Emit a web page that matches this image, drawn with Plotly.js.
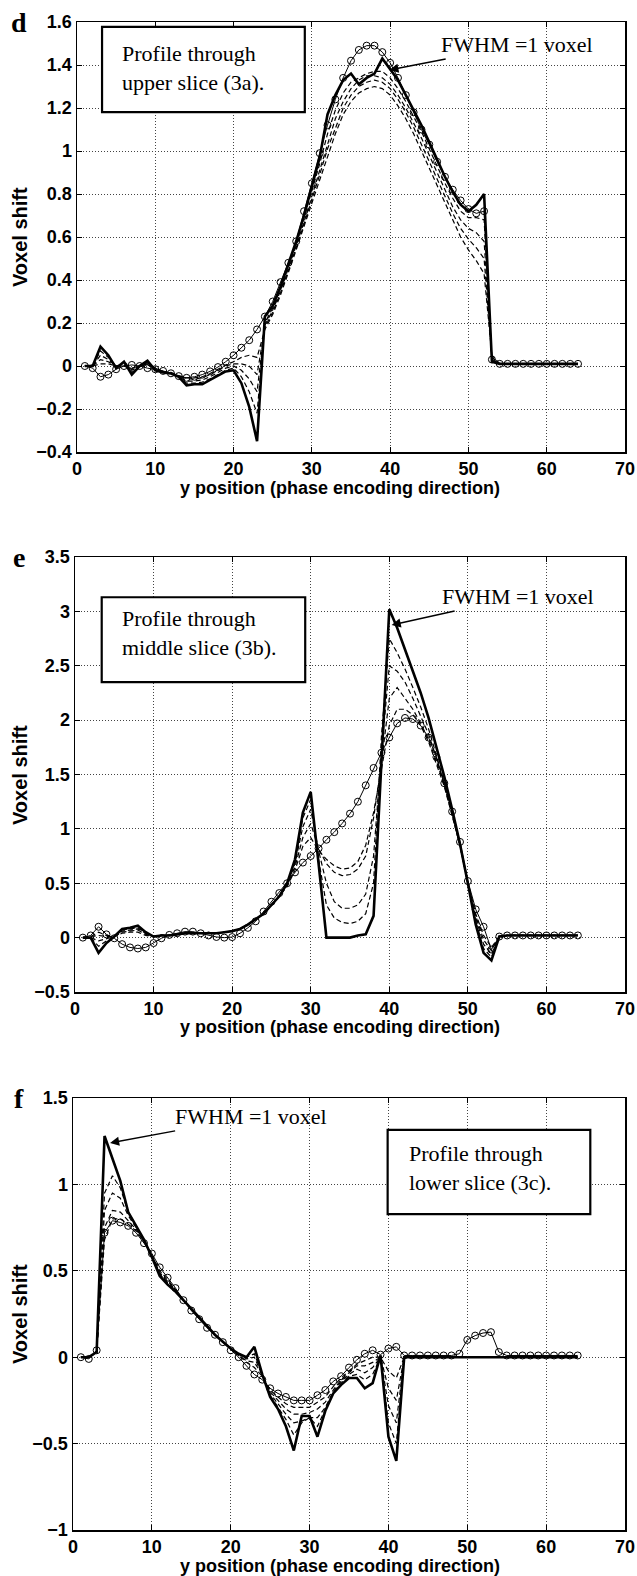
<!DOCTYPE html>
<html>
<head>
<meta charset="utf-8">
<script src="https://cdn.plot.ly/plotly-3.0.1.min.js"></script>
<style>html,body{margin:0;padding:0;background:#fff;}#chart{width:637px;height:1576px;}</style>
</head>
<body>
<div id="chart"></div>
<script>
// ---------- data ----------
const xPos = [1,2,3,4,5,6,7,8,9,10,11,12,13,14,15,16,17,18,19,20,21,22,23,24,25,26,27,28,29,30,31,32,33,34,35,36,37,38,39,40,41,42,43,44,45,46,47,48,49,50,51,52,53,54,55,56,57,58,59,60,61,62,63,64];

// Panel d: upper slice (3a)
const dCircle = [0,-0.01,-0.05,-0.04,-0.015,0,0.005,0,-0.01,-0.015,
  -0.023,-0.034,-0.047,-0.055,-0.05,-0.04,-0.025,-0.005,0.02,0.05,
  0.085,0.12,0.17,0.23,0.30,0.39,0.48,0.58,0.72,0.85,
  0.99,1.12,1.24,1.34,1.42,1.47,1.49,1.49,1.46,1.41,
  1.34,1.26,1.18,1.10,1.03,0.95,0.88,0.82,0.77,0.73,
  0.71,0.72,0.03,0.01,0.01,0.01,0.01,0.01,0.01,0.01,
  0.01,0.01,0.01,0.01];
const dSolid = [0,0,0.09,0.05,-0.01,0.02,-0.04,0,0.025,-0.02,
  -0.03,-0.035,-0.05,-0.09,-0.085,-0.085,-0.065,-0.045,-0.025,-0.02,
  -0.08,-0.19,-0.35,0.23,0.28,0.37,0.47,0.58,0.70,0.83,
  0.97,1.17,1.26,1.33,1.36,1.31,1.34,1.36,1.43,1.38,
  1.33,1.26,1.19,1.12,1.04,0.96,0.88,0.81,0.75,0.72,
  0.75,0.80,0.02,0.01,0.01,0.01,0.01,0.01,0.01,0.01,
  0.01,0.01,0.01,0.01];
const dDash1 = [0,0,0.07,0.04,0,0.01,-0.03,0,0.02,-0.02,
  -0.03,-0.035,-0.05,-0.08,-0.08,-0.075,-0.06,-0.04,-0.02,-0.01,
  -0.05,-0.12,-0.22,0.2,0.27,0.36,0.46,0.57,0.69,0.81,
  0.94,1.08,1.19,1.27,1.32,1.34,1.36,1.37,1.37,1.34,
  1.29,1.23,1.16,1.09,1.01,0.93,0.85,0.78,0.72,0.69,
  0.69,0.68,0.03,0.01,0.01,0.01,0.01,0.01,0.01,0.01,
  0.01,0.01,0.01,0.01];
const dDash2 = [0,0,0.05,0.03,0,0.005,-0.02,0,0.015,-0.015,
  -0.03,-0.035,-0.05,-0.07,-0.07,-0.065,-0.05,-0.03,-0.01,0,
  -0.02,-0.06,-0.12,0.19,0.26,0.35,0.45,0.56,0.67,0.79,
  0.91,1.04,1.15,1.23,1.29,1.33,1.35,1.35,1.34,1.31,
  1.26,1.2,1.13,1.06,0.98,0.9,0.82,0.74,0.68,0.64,
  0.62,0.58,0.04,0.01,0.01,0.01,0.01,0.01,0.01,0.01,
  0.01,0.01,0.01,0.01];
const dDash3 = [0,0,0.03,0.02,0,0,-0.015,0,0.01,-0.01,
  -0.025,-0.035,-0.045,-0.06,-0.06,-0.055,-0.04,-0.02,0,0.01,
  0.01,0,-0.04,0.18,0.25,0.34,0.44,0.55,0.66,0.77,
  0.89,1.01,1.11,1.2,1.26,1.3,1.32,1.33,1.32,1.29,
  1.24,1.18,1.11,1.03,0.95,0.87,0.79,0.71,0.64,0.59,
  0.55,0.5,0.04,0.01,0.01,0.01,0.01,0.01,0.01,0.01,
  0.01,0.01,0.01,0.01];
const dDash4 = [0,0,0.01,0.01,0,0,-0.01,0,0.005,-0.01,
  -0.025,-0.03,-0.045,-0.055,-0.055,-0.05,-0.035,-0.015,0.005,0.02,
  0.04,0.05,0.04,0.17,0.24,0.33,0.43,0.54,0.65,0.76,
  0.87,0.98,1.08,1.17,1.23,1.27,1.29,1.3,1.29,1.26,
  1.21,1.15,1.08,1.0,0.92,0.84,0.76,0.68,0.6,0.54,
  0.49,0.43,0.05,0.01,0.01,0.01,0.01,0.01,0.01,0.01,
  0.01,0.01,0.01,0.01];

// Panel e: middle slice (3b)
const eCircle = [0,0.02,0.1,0.03,-0.006,-0.06,-0.09,-0.1,-0.09,-0.05,
  -0.006,0.025,0.04,0.055,0.055,0.04,0.02,0.006,0,0.005,
  0.04,0.09,0.15,0.24,0.33,0.41,0.5,0.6,0.69,0.75,
  0.82,0.9,0.97,1.05,1.14,1.25,1.4,1.56,1.7,1.84,
  1.97,2.02,2.01,1.95,1.84,1.66,1.42,1.16,0.88,0.52,
  0.26,0.1,-0.11,0.01,0.02,0.02,0.02,0.02,0.02,0.02,
  0.02,0.02,0.02,0.02];
const eSolid = [0,0,-0.14,-0.05,0.01,0.08,0.09,0.11,0.05,0.01,
  0.02,0.02,0.03,0.04,0.04,0.04,0.04,0.04,0.05,0.06,
  0.08,0.12,0.17,0.22,0.3,0.38,0.5,0.72,1.15,1.34,
  0.68,0,0,0,0,0.02,0.03,0.2,1.6,3.02,
  2.85,2.65,2.45,2.25,2.02,1.76,1.48,1.18,0.86,0.5,
  0.12,-0.14,-0.21,0.01,0.02,0.02,0.02,0.02,0.02,0.02,
  0.02,0.02,0.02,0.02];
const eDash1 = [0,0,-0.08,-0.03,0.01,0.07,0.08,0.09,0.04,0.01,
  0.02,0.02,0.03,0.04,0.04,0.04,0.04,0.04,0.05,0.06,
  0.08,0.12,0.17,0.22,0.3,0.38,0.5,0.7,1.1,1.27,
  0.72,0.3,0.18,0.14,0.13,0.15,0.22,0.5,1.85,2.75,
  2.62,2.47,2.3,2.12,1.92,1.68,1.43,1.15,0.85,0.5,
  0.15,-0.1,-0.18,0.01,0.02,0.02,0.02,0.02,0.02,0.02,
  0.02,0.02,0.02,0.02];
const eDash2 = [0,0,-0.03,-0.01,0.01,0.06,0.07,0.08,0.04,0.01,
  0.02,0.02,0.03,0.04,0.04,0.04,0.04,0.04,0.05,0.06,
  0.08,0.12,0.17,0.22,0.3,0.38,0.49,0.68,1.02,1.18,
  0.8,0.5,0.33,0.27,0.27,0.3,0.4,0.75,1.7,2.5,
  2.45,2.35,2.2,2.04,1.87,1.65,1.41,1.14,0.85,0.5,
  0.18,-0.06,-0.15,0.01,0.02,0.02,0.02,0.02,0.02,0.02,
  0.02,0.02,0.02,0.02];
const eDash3 = [0,0.01,0.02,0.01,0.01,0.05,0.06,0.07,0.03,0.01,
  0.02,0.02,0.03,0.04,0.04,0.04,0.04,0.04,0.05,0.06,
  0.08,0.12,0.17,0.22,0.3,0.38,0.48,0.65,0.92,1.05,
  0.82,0.68,0.6,0.57,0.58,0.63,0.75,1.1,1.6,2.2,
  2.3,2.2,2.1,1.97,1.82,1.62,1.4,1.13,0.85,0.5,
  0.2,-0.02,-0.12,0.01,0.02,0.02,0.02,0.02,0.02,0.02,
  0.02,0.02,0.02,0.02];
const eDash4 = [0,0.01,0.05,0.02,0.01,0.04,0.05,0.05,0.02,0.01,
  0.02,0.02,0.03,0.04,0.04,0.04,0.04,0.04,0.05,0.06,
  0.08,0.12,0.17,0.22,0.3,0.38,0.47,0.62,0.84,0.92,
  0.8,0.72,0.66,0.63,0.64,0.7,0.85,1.15,1.55,1.95,
  2.1,2.1,2.05,1.95,1.8,1.6,1.39,1.12,0.85,0.5,
  0.22,0.02,-0.09,0.01,0.02,0.02,0.02,0.02,0.02,0.02,
  0.02,0.02,0.02,0.02];

// Panel f: lower slice (3c)
const fCircle = [0,-0.01,0.04,0.72,0.79,0.78,0.76,0.72,0.66,0.6,
  0.52,0.46,0.4,0.33,0.27,0.22,0.17,0.13,0.087,0.04,
  0,-0.05,-0.1,-0.13,-0.18,-0.21,-0.23,-0.25,-0.25,-0.25,
  -0.22,-0.19,-0.14,-0.11,-0.06,-0.015,0.02,0.04,0.015,0.05,
  0.06,0.01,0.01,0.01,0.01,0.01,0.01,0.01,0.02,0.1,
  0.125,0.14,0.145,0.03,0.01,0.01,0.01,0.01,0.01,0.01,
  0.01,0.01,0.01,0.01];
const fSolid = [0,0,0.03,1.28,1.15,1.02,0.84,0.76,0.68,0.58,
  0.47,0.42,0.38,0.33,0.28,0.23,0.18,0.13,0.09,0.05,
  0.02,0,0.06,-0.1,-0.23,-0.3,-0.4,-0.54,-0.34,-0.34,
  -0.46,-0.31,-0.21,-0.16,-0.12,-0.12,-0.18,-0.15,0.01,-0.46,
  -0.6,0,0,0,0,0,0,0,0,0,
  0,0,0,0,0,0,0,0,0,0,
  0,0,0,0];
const fDash1 = [0,0,0.03,0.95,1.05,0.98,0.84,0.76,0.68,0.58,
  0.48,0.43,0.38,0.33,0.28,0.23,0.18,0.13,0.09,0.05,
  0.02,0,0.02,-0.1,-0.22,-0.29,-0.36,-0.45,-0.38,-0.35,
  -0.4,-0.3,-0.21,-0.15,-0.11,-0.1,-0.13,-0.1,0,-0.38,
  -0.5,0,0,0,0,0,0,0,0,0,
  0,0,0,0,0,0,0,0,0,0,
  0,0,0,0];
const fDash2 = [0,0,0.03,0.85,0.95,0.92,0.82,0.75,0.68,0.58,
  0.48,0.43,0.38,0.33,0.28,0.23,0.18,0.13,0.09,0.05,
  0.02,-0.01,0,-0.1,-0.21,-0.27,-0.33,-0.38,-0.37,-0.35,
  -0.35,-0.29,-0.2,-0.14,-0.1,-0.07,-0.09,-0.06,0,-0.28,
  -0.38,0,0,0,0,0,0,0,0,0,
  0,0,0,0,0,0,0,0,0,0,
  0,0,0,0];
const fDash3 = [0,0,0.03,0.75,0.85,0.84,0.79,0.74,0.67,0.59,
  0.49,0.44,0.39,0.33,0.28,0.23,0.18,0.13,0.09,0.05,
  0.01,-0.02,-0.03,-0.1,-0.2,-0.25,-0.3,-0.33,-0.33,-0.32,
  -0.3,-0.26,-0.19,-0.13,-0.09,-0.05,-0.05,-0.03,0,-0.18,
  -0.25,0,0,0,0,0,0,0,0,0,
  0,0,0,0,0,0,0,0,0,0,
  0,0,0,0];
const fDash4 = [0,0,0.03,0.68,0.8,0.8,0.77,0.73,0.67,0.59,
  0.5,0.45,0.39,0.33,0.28,0.23,0.18,0.13,0.09,0.05,
  0.01,-0.03,-0.06,-0.11,-0.19,-0.23,-0.27,-0.29,-0.29,-0.29,
  -0.26,-0.23,-0.17,-0.12,-0.08,-0.04,-0.02,0,0,-0.08,
  -0.12,0,0,0,0,0,0,0,0,0,
  0,0,0,0,0,0,0,0,0,0,
  0,0,0,0];

// ticks
const xTickVals = [0,10,20,30,40,50,60,70];
const xTickText = ['0','10','20','30','40','50','60','70'];
const dTickVals = [-0.4,-0.2,0,0.2,0.4,0.6,0.8,1,1.2,1.4,1.6];
const dTickText = ['\u22120.4','\u22120.2','0','0.2','0.4','0.6','0.8','1','1.2','1.4','1.6'];
const eTickVals = [-0.5,0,0.5,1,1.5,2,2.5,3,3.5];
const eTickText = ['\u22120.5','0','0.5','1','1.5','2','2.5','3','3.5'];
const fTickVals = [-1,-0.5,0,0.5,1,1.5];
const fTickText = ['\u22121','\u22120.5','0','0.5','1','1.5'];

const panelLetters = ['d','e','f'];
const boxTexts = ['Profile through<br>upper slice (3a).','Profile through<br>middle slice (3b).','Profile through<br>lower slice (3c).'];
const arrowText = 'FWHM =1 voxel';
const xTitle = 'y position (phase encoding direction)';
const yTitle = 'Voxel shift';

// ---------- build ----------
const SANS = 'Liberation Sans, Arial, sans-serif';
const SERIF = 'Liberation Serif, Times New Roman, serif';

function seriesTraces(circle, dashes, solid, xa, ya) {
  const t = [];
  t.push({x: xPos, y: circle, xaxis: xa, yaxis: ya, mode: 'lines+markers', type: 'scatter',
    line: {color: 'black', width: 1},
    marker: {symbol: 'circle-open', size: 7, color: 'black', line: {width: 1, color: 'black'}}});
  dashes.forEach(d => t.push({x: xPos, y: d, xaxis: xa, yaxis: ya, mode: 'lines', type: 'scatter',
    line: {color: 'black', width: 1.2, dash: '5px,3px'}}));
  t.push({x: xPos, y: solid, xaxis: xa, yaxis: ya, mode: 'lines', type: 'scatter',
    line: {color: 'black', width: 2.6}});
  return t;
}

const data = [].concat(
  seriesTraces(dCircle, [dDash1, dDash2, dDash3, dDash4], dSolid, 'x', 'y'),
  seriesTraces(eCircle, [eDash1, eDash2, eDash3, eDash4], eSolid, 'x2', 'y2'),
  seriesTraces(fCircle, [fDash1, fDash2, fDash3, fDash4], fSolid, 'x3', 'y3')
);

const common = {
  showgrid: true, gridcolor: '#444', griddash: '1px,2px', gridwidth: 1,
  showline: true, linecolor: 'black', linewidth: 1.5, mirror: 'ticks',
  ticks: 'inside', ticklen: 5, tickwidth: 1, tickcolor: 'black',
  zeroline: false, fixedrange: true, automargin: false
};
function xAx(domain, anchor) {
  return Object.assign({}, common, {domain: domain, anchor: anchor, range: [0, 70],
    tickmode: 'array', tickvals: xTickVals, ticktext: xTickText,
    tickfont: {family: SANS, size: 18, color: 'black', weight: 'bold'}});
}
function yAx(domain, anchor, range, vals, text) {
  return Object.assign({}, common, {domain: domain, anchor: anchor, range: range,
    tickmode: 'array', tickvals: vals, ticktext: text,
    tickfont: {family: SANS, size: 18, color: 'black', weight: 'bold'}});
}

const H = 1576, W = 637;
const py = p => 1 - p / H;
const px = p => p / W;

const annotations = [];
const shapes = [];
// panel letters
[[19, 22], [19, 557], [19, 1098]].forEach((p, i) => annotations.push({
  xref: 'paper', yref: 'paper', x: px(p[0]), y: py(p[1]), text: '<b>' + panelLetters[i] + '</b>',
  showarrow: false, xanchor: 'center', yanchor: 'middle', font: {family: SERIF, size: 28, color: 'black'}}));
// y titles
[237, 775, 1314].forEach(c => annotations.push({
  xref: 'paper', yref: 'paper', x: px(20), y: py(c), text: '<b>' + yTitle + '</b>', textangle: -90,
  showarrow: false, xanchor: 'center', yanchor: 'middle', font: {family: SANS, size: 20, color: 'black'}}));
// x titles
[488, 1027, 1566].forEach(c => annotations.push({
  xref: 'paper', yref: 'paper', x: px(340), y: py(c), text: '<b>' + xTitle + '</b>',
  showarrow: false, xanchor: 'center', yanchor: 'middle', font: {family: SANS, size: 18, color: 'black'}}));

// boxes (data coords of each panel)
const boxes = [
  {xr: 'x', yr: 'y', x0: 3.2, x1: 29.1, y0: 1.181, y1: 1.577, tx: 5.5, ty: 1.386},
  {xr: 'x2', yr: 'y2', x0: 3.4, x1: 29.3, y0: 2.35, y1: 3.13, tx: 5.7, ty: 2.80},
  {xr: 'x3', yr: 'y3', x0: 39.9, x1: 65.6, y0: 0.828, y1: 1.315, tx: 42.4, ty: 1.094}
];
boxes.forEach((b, i) => {
  shapes.push({type: 'rect', xref: b.xr, yref: b.yr, x0: b.x0, x1: b.x1, y0: b.y0, y1: b.y1,
    line: {color: 'black', width: 2.2}, fillcolor: 'white', layer: 'above'});
  annotations.push({xref: b.xr, yref: b.yr, x: b.tx, y: b.ty, text: boxTexts[i], align: 'left',
    showarrow: false, xanchor: 'left', yanchor: 'middle', font: {family: SERIF, size: 22, color: 'black'}});
});

// FWHM arrows
const arrows = [
  {xr: 'x', yr: 'y', x: 39.9, y: 1.377, ax: 128, ay: -25},
  {xr: 'x2', yr: 'y2', x: 40.3, y: 2.875, ax: 126, ay: -28},
  {xr: 'x3', yr: 'y3', x: 4.7, y: 1.24, ax: 141, ay: -26}
];
arrows.forEach(a => annotations.push({xref: a.xr, yref: a.yr, x: a.x, y: a.y, ax: a.ax, ay: a.ay,
  text: arrowText, showarrow: true, arrowhead: 2, arrowsize: 1.3, arrowwidth: 1.4, arrowcolor: 'black',
  font: {family: SERIF, size: 22, color: 'black'}}));

const layout = {
  width: W, height: H, margin: {l: 0, r: 0, t: 0, b: 0},
  paper_bgcolor: 'white', plot_bgcolor: 'white', showlegend: false,
  xaxis: xAx([px(77), px(625)], 'y'),
  yaxis: yAx([py(452), py(22)], 'x', [-0.4, 1.6], dTickVals, dTickText),
  xaxis2: xAx([px(75), px(625)], 'y2'),
  yaxis2: yAx([py(992), py(557)], 'x2', [-0.5, 3.5], eTickVals, eTickText),
  xaxis3: xAx([px(73), px(625)], 'y3'),
  yaxis3: yAx([py(1530), py(1098)], 'x3', [-1, 1.5], fTickVals, fTickText),
  annotations: annotations, shapes: shapes
};

Plotly.newPlot('chart', data, layout, {staticPlot: true, displayModeBar: false});
</script>
</body>
</html>
